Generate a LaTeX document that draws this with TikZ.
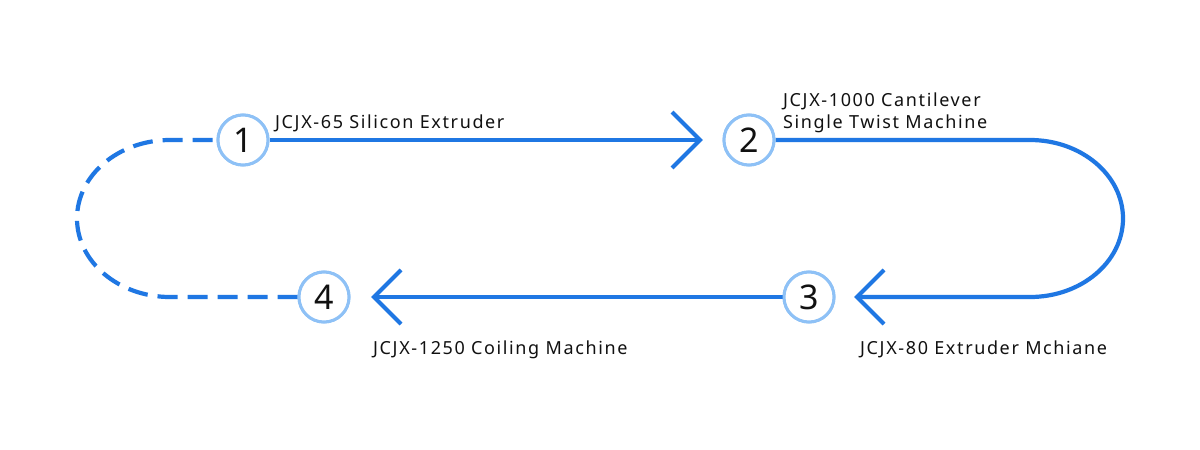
\documentclass[tikz,border=0pt]{standalone}
\usepackage{fontspec}
\setmainfont{Noto Sans}
\newfontfamily\labfont[LetterSpace=9]{Noto Sans}
\begin{document}
\begin{tikzpicture}[x=1pt,y=-1pt,
  flow/.style={draw=flowblue,line width=4.2pt,line join=miter},
  dashflow/.style={flow,dash pattern=on 20pt off 10pt},
  stepcircle/.style={circle,draw=ringblue,line width=3pt,fill=white,minimum size=50pt,inner sep=0pt,
    font=\fontsize{34}{34}\selectfont,text=textblack},
  lab/.style={anchor=base west,align=left,font=\labfont\fontsize{18}{21.5}\selectfont,text=textblack,inner sep=0pt}]
\definecolor{flowblue}{HTML}{1F77E3}
\definecolor{ringblue}{HTML}{8EC1F6}
\definecolor{textblack}{HTML}{111111}
\fill[white] (0,0) rectangle (1200,450);
\useasboundingbox (0,0) rectangle (1200,450);

\node[stepcircle] (c1) at (243,140) {1};
\node[stepcircle] (c2) at (749,140) {2};
\node[stepcircle] (c3) at (809,297) {3};
\node[stepcircle] (c4) at (324,297) {4};

\coordinate (t1) at (700,140);
\coordinate (t2) at (857,297);
\coordinate (t3) at (374,297);

% 1 -> 2
\draw[flow] (c1.east) -- (t1);
\draw[flow] (t1) ++(-28,-28) -- (t1) -- ++(-28,28);
% 2 -> 3
\draw[flow] (c2.east) -- (1030,140) arc[start angle=-90,end angle=90,x radius=93,y radius=78.5] -- (t2);
\draw[flow] (t2) ++(27,-27) -- (t2) -- ++(27,27);
% 3 -> 4
\draw[flow] (c3.west) -- (t3);
\draw[flow] (t3) ++(27,-27) -- (t3) -- ++(27,27);
% 4 -> 1 dashed
\draw[dashflow] (c4.west) -- (170,297) arc[start angle=90,end angle=270,x radius=93,y radius=78.5] -- (c1.west);

\node[stepcircle] at (c1) {1};
\node[stepcircle] at (c2) {2};
\node[stepcircle] at (c3) {3};
\node[stepcircle] at (c4) {4};

\node[lab] (l1) at (275,128) {JCJX-65 Silicon Extruder};
\node[lab] (l2) at (783,128) {JCJX-1000 Cantilever\\Single Twist Machine};
\node[lab] (l3) at (860,354) {JCJX-80 Extruder Mchiane};
\node[lab] (l4) at (373,354) {JCJX-1250 Coiling Machine};
\end{tikzpicture}
\end{document}
